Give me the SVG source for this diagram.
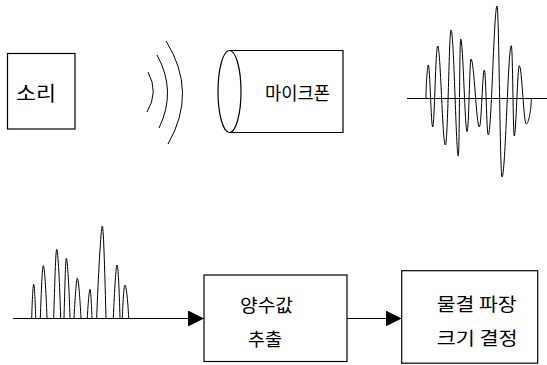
<svg xmlns="http://www.w3.org/2000/svg" width="547" height="365" viewBox="0 0 547 365">
<style>
.box{fill:#fff;stroke:#000;stroke-width:1.2}
.ln{fill:none;stroke:#000;stroke-width:1.2}
.wv{fill:none;stroke:#000;stroke-width:1}
.t{font-family:"Noto Sans CJK KR","Noto Sans",sans-serif;font-size:18px;fill:#000;dominant-baseline:central}
</style>
<defs>
<marker id="ah" markerWidth="16" markerHeight="16" refX="16" refY="8" orient="auto" markerUnits="userSpaceOnUse">
<path d="M0,0 L16,8 L0,16 Z" fill="#000"/>
</marker>
</defs>
<g id="sori">
<rect class="box" x="7.5" y="53.5" width="67.5" height="75.5"/>
<text class="t" x="16" y="92" style="font-size:20px" textLength="40" lengthAdjust="spacingAndGlyphs">소리</text>
</g>
<g id="soundwaves">
<path class="wv" d="M148,72 Q159,92 147,112"/>
<path class="wv" d="M157,55 Q177,91 159,128"/>
<path class="wv" d="M166,41 Q198,92 168,144"/>
</g>
<g id="mic">
<path class="box" d="M229.5,50.5 H343 V132.5 H229.5"/>
<ellipse class="box" cx="229.5" cy="91.5" rx="11.5" ry="41"/>
<text class="t" x="265" y="92" textLength="65" lengthAdjust="spacingAndGlyphs">마이크폰</text>
</g>
<g id="waveform">
<line class="ln" x1="407" y1="98.5" x2="547" y2="98.5"/>
<path class="wv" d="M426,98 C426,84 427.5,65 428.3,65 C430,65 431,127 432.7,127 C434.5,127 435.5,46 437.7,46 C440.5,46 442.5,145 445.3,145 C448,145 449,30 451,30 C454,30 456,156 458.3,156 C459.5,156 459.5,39 460.7,39 C463,39 465,131.7 467,131.7 C469,131.7 469.5,59 471,59 C474,59 476.5,127 479.3,127 C481.5,127 482.5,70 484.3,70 C486,70 486.5,135 488.3,135 C491.5,135 494,6 497,6 C499,6 500,177 502,177 C505.5,177 508,45.7 511.3,45.7 C512.8,45.7 513,136 514.3,136 C516,136 517.5,65.7 519.3,65.7 C522,65.7 523.5,124 526.3,124 C528.5,124 531.3,110 531.3,98"/>
</g>
<g id="rectified">
<line class="ln" x1="13" y1="318.5" x2="150" y2="318.5"/>
<path class="wv" d="M31.7,318 C32.2,300 33,284.3 33.7,284.3 C34.4,284.3 35.2,300 35.7,318"/>
<path class="wv" d="M40.3,318 C41.3,290 42.3,265.7 43.3,265.7 C44.5,265.7 46,290 47,318"/>
<path class="wv" d="M53.7,318 C54.7,285 55.7,249.3 56.7,249.3 C58,249.3 59.7,285 60.7,318"/>
<path class="wv" d="M64,318 C64.8,290 65.5,258.3 66.3,258.3 C67.5,258.3 69.2,290 70,318"/>
<path class="wv" d="M74,318 C75,300 76.3,278.3 77.3,278.3 C78.6,278.3 80,300 81,318"/>
<path class="wv" d="M87.3,318 C88,305 89.2,289.3 90,289.3 C90.8,289.3 91.5,305 92,318"/>
<path class="wv" d="M96.7,318 C98,280 101,226 102.3,226 C103.6,226 105,280 106,318"/>
<path class="wv" d="M113.3,318 C114.5,290 116,265 117,265 C118.2,265 119.2,290 120,318"/>
<path class="wv" d="M122.3,318 C123,300 124,285 125,285 C126.2,285 127.8,300 128.7,318"/>
</g>
<g id="extract">
<rect class="box" x="204" y="275" width="143" height="86.5"/>
<text class="t" x="240" y="304" textLength="53" lengthAdjust="spacingAndGlyphs">양수값</text>
<text class="t" x="248" y="338" textLength="34" lengthAdjust="spacingAndGlyphs">추출</text>
</g>
<g id="decide">
<rect class="box" x="401.7" y="270.7" width="136" height="92.5"/>
<text class="t" x="436.7" y="303.3" textLength="80" lengthAdjust="spacingAndGlyphs">물결 파장</text>
<text class="t" x="436.7" y="337" textLength="81" lengthAdjust="spacingAndGlyphs">크기 결정</text>
</g>
<g id="connectors">
<line class="ln" x1="150" y1="318.5" x2="204" y2="318.5" marker-end="url(#ah)"/>
<line class="ln" x1="347" y1="318.5" x2="401.7" y2="318.5" marker-end="url(#ah)"/>
</g>
</svg>
